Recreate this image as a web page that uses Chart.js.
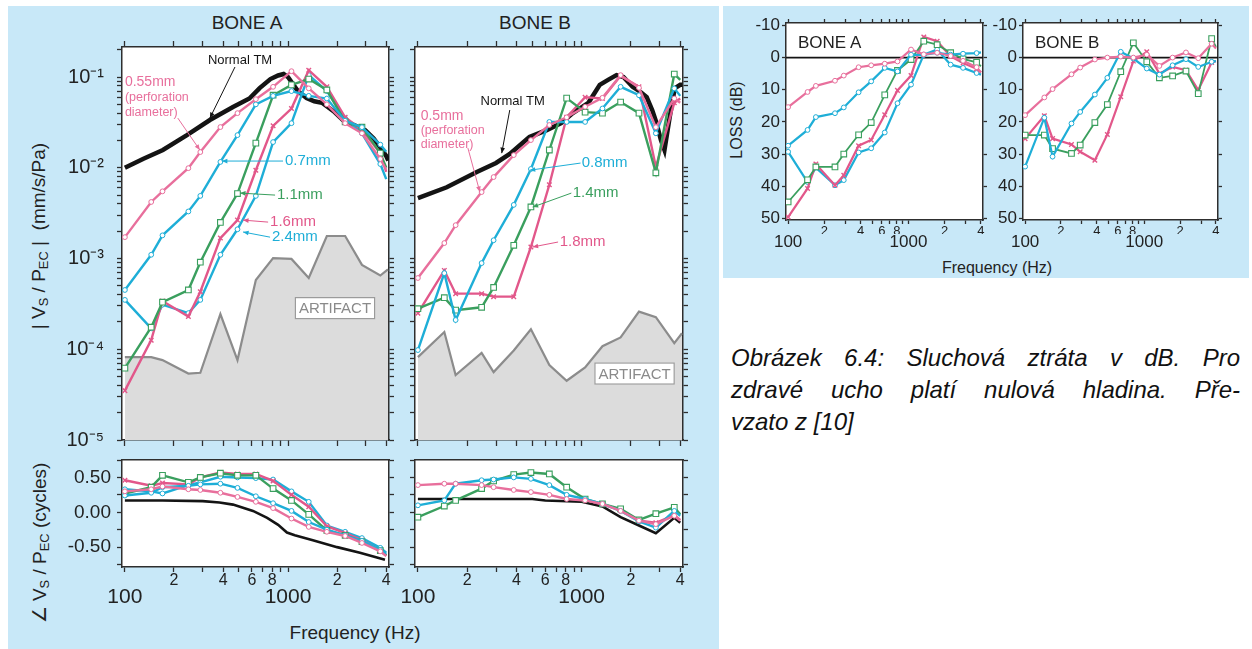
<!DOCTYPE html>
<html>
<head>
<meta charset="utf-8">
<script src="https://cdn.jsdelivr.net/npm/chart.js@4.4.1/dist/chart.umd.min.js"></script>
<style>
  body { margin: 0; width: 1252px; height: 649px; overflow: hidden; position: relative; background: #fff;
         font-family: 'Liberation Sans', Arial, sans-serif; color: #222; }
  .panel { position: absolute; background: #c8e8f8; }
  canvas.plot { position: absolute; }
  .lbl { position: absolute; white-space: nowrap; line-height: 1; }
  .rot { transform: translate(-50%, -50%) rotate(-90deg); }
  .ctr { transform: translate(-50%, -50%); }
  .lbl sub { font-size: 68%; vertical-align: -0.25em; }
  .cap { position: absolute; left: 731px; width: 509px; font-style: italic; font-size: 24px; line-height: 32px; color: #111; }
  .cap div { text-align: justify; text-align-last: justify; }
  .cap div.last { text-align-last: left; }
</style>
</head>
<body>
<div class="panel" style="left:8px; top:6px; width:711px; height:643px;"></div>
<div class="panel" style="left:723px; top:6px; width:526px; height:272px;"></div>

<canvas class="plot" id="magA"></canvas>
<canvas class="plot" id="magB"></canvas>
<canvas class="plot" id="phA"></canvas>
<canvas class="plot" id="phB"></canvas>
<canvas class="plot" id="lossA"></canvas>
<canvas class="plot" id="lossB"></canvas>

<div class="lbl ctr" style="left:247px; top:22px; font-size:19px;">BONE A</div>
<div class="lbl ctr" style="left:535px; top:22px; font-size:19px;">BONE B</div>
<div class="lbl rot" style="left:40px; top:236px; font-size:19px;">| V<sub>S</sub> / P<sub>EC</sub> | &nbsp;(mm/s/Pa)</div>
<div class="lbl rot" style="left:41px; top:543px; font-size:19px;">∠ V<sub>S</sub> / P<sub>EC</sub> (cycles)</div>
<div class="lbl ctr" style="left:355px; top:632px; font-size:19px;">Frequency (Hz)</div>

<div class="lbl rot" style="left:737px; top:120px; font-size:16px;">LOSS (dB)</div>
<div class="lbl ctr" style="left:997px; top:268px; font-size:16px;">Frequency (Hz)</div>
<div class="lbl" style="left:798px; top:34px; font-size:17px;">BONE A</div>
<div class="lbl" style="left:1035px; top:34px; font-size:17px;">BONE B</div>

<div class="cap" style="top:342px;">
  <div>Obrázek 6.4: Sluchová ztráta v dB. Pro</div>
  <div>zdravé ucho platí nulová hladina. Pře-</div>
  <div class="last">vzato z [10]</div>
</div>

<script>
// measurement frequencies (Hz), shared by both bones
const freqs = [100, 145, 170, 245, 290, 385, 490, 635, 810, 1050, 1340, 1730, 2240, 2840, 3680, 4000];
const artifactFreqs = [100, 145, 170, 245, 290, 385, 490, 635, 810, 1050, 1340, 1730, 2240, 2840, 3680, 4100];

// axis ticks
const freqTicks = [100, 200, 300, 400, 500, 600, 700, 800, 900, 1000, 2000, 3000, 4000];
const freqDigitLabels = { 200: '2', 400: '4', 600: '6', 800: '8', 2000: '2', 4000: '4' };
const freqDecadeLabels = { 100: '100', 1000: '1000' };
const magDecades = [1e-5, 1e-4, 1e-3, 1e-2, 1e-1];
const magDecadeLabels = ['10⁻⁵', '10⁻⁴', '10⁻³', '10⁻²', '10⁻¹'];
const phaseTicks = [-0.75, -0.5, -0.25, 0, 0.25, 0.5, 0.75];
const phaseLabels = { '-0.5': '-0.50', '0': '0.00', '0.5': '0.50' };
const lossTicks = [-10, 0, 10, 20, 30, 40, 50];

// BONE A, |Vs/Pec| (mm/s/Pa)
const normalFreqA = [100, 130, 171, 240, 332, 460, 580, 670, 780, 870, 940, 1000, 1060, 1150, 1300, 1450, 1615, 1900, 2170, 2500, 2970, 3350, 3660, 4000, 4120];
const normalA = [0.0100, 0.0126, 0.0157, 0.0229, 0.0336, 0.0467, 0.058, 0.0756, 0.095, 0.104, 0.108, 0.100, 0.086, 0.070, 0.0586, 0.054, 0.052, 0.042, 0.0336, 0.030, 0.026, 0.021, 0.0169, 0.0135, 0.012];
const magA055 = [0.00172, 0.0042, 0.0055, 0.0099, 0.0149, 0.0281, 0.040, 0.057, 0.078, 0.116, 0.075, 0.050, 0.031, 0.024, 0.0125, 0.0095];
const magA07 = [0.00045, 0.0011, 0.0018, 0.0033, 0.0049, 0.0116, 0.0229, 0.050, 0.062, 0.070, 0.062, 0.058, 0.033, 0.028, 0.018, 0.015];
const magA11 = [6.2e-5, 1.75e-4, 3.3e-4, 4.5e-4, 9.1e-4, 0.0025, 0.0052, 0.0187, 0.063, 0.082, 0.095, 0.072, 0.032, 0.028, 0.0145, 0.010];
const magA16 = [3.5e-5, 1.26e-4, 3.4e-4, 2.3e-4, 4.3e-4, 0.00168, 0.00265, 0.0094, 0.029, 0.045, 0.119, 0.078, 0.036, 0.026, 0.0145, 0.009];
const magA24 = [3.5e-4, 1.7e-4, 3.1e-4, 2.5e-4, 3.5e-4, 0.0011, 0.0021, 0.0049, 0.0192, 0.031, 0.105, 0.070, 0.035, 0.024, 0.011, 0.0075];
const artifactA = [8.2e-5, 8.2e-5, 7.6e-5, 5.4e-5, 5.5e-5, 2.44e-4, 7.6e-5, 5.8e-4, 1.01e-3, 9.9e-4, 6.1e-4, 1.77e-3, 1.77e-3, 8.5e-4, 6.5e-4, 7.6e-4];

// BONE B, |Vs/Pec| (mm/s/Pa)
const normalFreqB = [100, 150, 229, 300, 364, 480, 612, 750, 883, 1100, 1290, 1450, 1633, 1800, 2049, 2300, 2497, 2700, 2852, 3050, 3206, 3440, 3700, 4000, 4120];
const normalB = [0.00464, 0.0061, 0.009, 0.0113, 0.0142, 0.0218, 0.026, 0.031, 0.040, 0.052, 0.082, 0.093, 0.105, 0.100, 0.078, 0.068, 0.060, 0.043, 0.032, 0.0202, 0.0157, 0.035, 0.075, 0.082, 0.082];
const magB05 = [6.1e-4, 0.00148, 0.00233, 0.0054, 0.0079, 0.0138, 0.0202, 0.0296, 0.036, 0.047, 0.059, 0.105, 0.076, 0.028, 0.058, 0.052];
const magB08 = [9.8e-5, 6.9e-4, 2.1e-4, 8.9e-4, 0.00159, 0.0039, 0.0097, 0.032, 0.032, 0.032, 0.045, 0.078, 0.063, 0.024, 0.075, 0.062];
const magB14 = [2.8e-4, 3.7e-4, 2.7e-4, 2.9e-4, 4.8e-4, 0.0014, 0.0037, 0.0157, 0.0586, 0.041, 0.040, 0.053, 0.040, 0.0088, 0.108, 0.093];
const magB18 = [2.5e-4, 7.4e-4, 4.1e-4, 4.1e-4, 3.8e-4, 3.8e-4, 0.00134, 0.0065, 0.036, 0.060, 0.058, 0.103, 0.078, 0.0102, 0.052, 0.058];
const artifactB = [8.2e-5, 1.55e-4, 5.2e-5, 9.1e-5, 5.6e-5, 9.7e-5, 1.66e-4, 6.7e-5, 4.5e-5, 6.3e-5, 1.08e-4, 1.35e-4, 2.6e-4, 2.26e-4, 1.17e-4, 1.5e-4];

// phase (cycles)
const normalPhaseFreqA = [100, 170, 300, 380, 460, 610, 745, 870, 985, 1100, 1420, 2000, 2760, 3930];
const normalPhaseA = [0.17, 0.17, 0.16, 0.14, 0.11, 0.02, -0.08, -0.18, -0.29, -0.33, -0.40, -0.50, -0.58, -0.68];
const phaseA055 = [0.30, 0.33, 0.37, 0.33, 0.32, 0.28, 0.22, 0.15, 0.06, -0.09, -0.21, -0.28, -0.34, -0.44, -0.56, -0.63];
const phaseA07 = [0.24, 0.28, 0.36, 0.38, 0.40, 0.41, 0.35, 0.23, 0.13, 0.02, -0.14, -0.25, -0.33, -0.41, -0.54, -0.60];
const phaseA11 = [0.27, 0.36, 0.53, 0.43, 0.50, 0.56, 0.53, 0.53, 0.34, 0.17, -0.03, -0.26, -0.33, -0.42, -0.55, -0.62];
const phaseA16 = [0.46, 0.38, 0.42, 0.40, 0.50, 0.57, 0.55, 0.55, 0.45, 0.25, 0.08, -0.20, -0.30, -0.40, -0.55, -0.62];
const phaseA24 = [0.33, 0.30, 0.27, 0.39, 0.43, 0.51, 0.50, 0.49, 0.47, 0.30, 0.15, -0.19, -0.28, -0.37, -0.51, -0.58];

const normalPhaseFreqB = [100, 500, 600, 1000, 1340, 1730, 2240, 2840, 3680, 4000];
const normalPhaseB = [0.19, 0.19, 0.17, 0.15, 0.085, -0.07, -0.19, -0.30, -0.08, -0.15];
const phaseB05 = [0.39, 0.41, 0.41, 0.39, 0.36, 0.32, 0.29, 0.25, 0.19, 0.17, 0.12, 0.02, -0.12, -0.17, -0.05, -0.12];
const phaseB08 = [0.10, 0.17, 0.41, 0.46, 0.47, 0.50, 0.48, 0.39, 0.25, 0.19, 0.12, 0.02, -0.13, -0.22, 0.02, -0.05];
const phaseB14 = [-0.07, 0.09, 0.17, 0.34, 0.45, 0.54, 0.57, 0.55, 0.36, 0.19, 0.12, 0.05, -0.11, -0.02, 0.07, -0.03];
const phaseB18 = [null, null, null, null, null, null, null, null, null, 0.18, 0.11, 0.04, -0.12, -0.15, -0.04, -0.11];

// loss (dB)
const lossA055 = [15.4, 10.7, 8.8, 7.2, 5.6, 3.0, 2.4, 1.9, 1.2, -2.5, -1.0, -1.5, -0.5, 1.0, 3.0, 4.6];
const lossA07 = [27.4, 22.5, 18.5, 17.3, 15.5, 10.8, 7.4, 3.2, 4.3, -0.9, -0.8, -1.5, -0.9, -1.2, -1.4, -1.6];
const lossA11 = [44.9, 38.0, 34.0, 34.0, 30.0, 24.0, 20.2, 11.6, 4.0, 0.6, -5.1, -4.0, -1.5, 0.4, 1.5, 2.7];
const lossA16 = [49.6, 40.7, 33.1, 39.7, 36.6, 27.4, 25.6, 17.8, 10.2, 5.6, -6.4, -5.1, -0.4, 1.7, 3.5, 4.6];
const lossA24 = [29.3, 38.7, 34.2, 39.7, 38.1, 29.5, 28.2, 23.3, 14.2, 8.4, -0.9, -2.5, 2.2, 3.2, 4.8, 5.3];
const lossB05 = [17.9, 12.4, 9.8, 5.2, 3.1, 0.6, 0.0, -0.3, 0.0, -0.9, 2.6, 0.0, -1.6, 0.2, -4.3, -2.8];
const lossB08 = [33.9, 18.7, 30.8, 20.5, 16.9, 11.5, 6.3, -1.8, 0.3, 3.4, 5.3, 2.4, 0.5, 2.9, 1.3, 1.1];
const lossB14 = [24.1, 24.1, 28.3, 29.8, 27.2, 20.2, 14.6, 4.4, -4.6, 1.3, 6.3, 5.7, 4.2, 11.2, -5.9, -3.3];
const lossB18 = [25.2, 18.1, 25.2, 27.0, 29.3, 31.9, 23.9, 12.2, 1.1, -1.8, 5.0, 2.9, 3.9, 10.1, 1.5, 1.1];

const F_MIN = 96, F_MAX = 4160;
const MAG_MIN = 1e-5, MAG_MAX = 0.2143;
const PHASE_MIN = -0.785, PHASE_MAX = 0.75;
const LOSS_MIN = -10.75, LOSS_MAX = 50.5;

const PINK = '#e2578a';
const PINK_LIGHT = '#e86f9c';
const CYAN = '#1eaed7';
const GREEN = '#3a9f5e';
const BLACK = '#141414';
const INK = '#2e2e2e';

const magTickValues = magDecades
  .flatMap((d) => [1, 2, 3, 4, 5, 6, 7, 8, 9].map((m) => m * d))
  .filter((v) => v <= MAG_MAX);

const MARKERS = {
  o: { style: 'circle', r: 2.4, w: 1 },
  sq: { style: 'rect', r: 4, w: 1.1 },
  x: { style: 'crossRot', r: 3.2, w: 1.4 },
  none: { style: 'circle', r: 0, w: 0 },
};

function series(freq, values, color, marker, order, width) {
  const last = freq.length - 1;
  const m = MARKERS[marker];
  return {
    data: freq.map((f, i) => ({ x: f, y: values[i] })),
    borderColor: color,
    borderWidth: width || 2.4,
    pointStyle: m.style,
    pointRadius: (c) => (c.dataIndex === last ? 0 : m.r),
    pointBorderColor: color,
    pointBackgroundColor: '#fff',
    pointBorderWidth: m.w,
    order,
  };
}

function artifact(values) {
  return {
    data: artifactFreqs.map((f, i) => ({ x: f, y: values[i] })),
    borderColor: '#8c8c8c',
    borderWidth: 2.2,
    backgroundColor: '#dcdcdc',
    fill: 'start',
    pointRadius: 0,
    order: 10,
  };
}

function zeroLine() {
  return {
    data: [{ x: F_MIN, y: 0 }, { x: F_MAX, y: 0 }],
    borderColor: BLACK,
    borderWidth: 1.6,
    pointRadius: 0,
    order: 9,
  };
}

// fixes an axis box to a given thickness so the plot areas land where the figure has them
function sizeTo(n) {
  return (s) => {
    if (s.isHorizontal()) s.height = n; else s.width = n;
    s.paddingLeft = 0; s.paddingRight = 0; s.paddingTop = 0; s.paddingBottom = 0;
  };
}

function freqAxis(position, size, opts) {
  const o = opts || {};
  return {
    type: 'logarithmic', position, min: F_MIN, max: F_MAX, weight: o.weight || 0,
    afterBuildTicks: (s) => { s.ticks = freqTicks.map((v) => ({ value: v })); },
    afterFit: sizeTo(size),
    ticks: {
      display: !!o.labels, autoSkip: false, maxRotation: 0, padding: o.padding || 0, color: '#222',
      font: { family: 'Liberation Sans', size: o.font || 15, lineHeight: 1 },
      callback: (v) => (o.labels ? o.labels[v] || '' : ''),
    },
    grid: o.tick
      ? { drawOnChartArea: false, drawTicks: true, tickLength: o.tick, tickColor: INK, tickWidth: 1.3 }
      : { display: false, drawTicks: false },
    border: { display: o.border !== false, color: INK, width: 1.5 },
  };
}

function valueAxis(type, position, size, min, max, tickValues, opts) {
  const o = opts || {};
  return {
    type, position, min, max, reverse: !!o.reverse,
    afterBuildTicks: (s) => { s.ticks = tickValues.map((v) => ({ value: v })); },
    afterFit: sizeTo(size),
    ticks: {
      display: !!o.label, autoSkip: false, padding: o.padding || 0, color: '#222',
      font: { family: 'Liberation Sans', size: o.font || 18, lineHeight: 1 },
      callback: (v) => (o.label ? o.label(v) : ''),
    },
    grid: { drawOnChartArea: false, drawTicks: true, tickLength: o.tick || 5, tickColor: INK, tickWidth: 1.3 },
    border: { color: INK, width: 1.5 },
  };
}

const magLabel = (v) => { const i = magDecades.indexOf(v); return i >= 0 ? magDecadeLabels[i] : ''; };
const phaseLabel = (v) => phaseLabels[String(v)] || '';
const lossLabel = (v) => String(v);

const whiteArea = {
  id: 'whiteArea',
  beforeDraw(chart) {
    const a = chart.chartArea;
    chart.ctx.save();
    chart.ctx.fillStyle = '#fff';
    chart.ctx.fillRect(a.left, a.top, a.right - a.left, a.bottom - a.top);
    chart.ctx.restore();
  },
};

// callout labels and leader lines, anchored in data coordinates
function notesPlugin(items) {
  return {
    id: 'notes',
    afterDatasetsDraw(chart) {
      const { ctx } = chart;
      const sx = chart.scales.x, sy = chart.scales.y;
      const px = (p) => [sx.getPixelForValue(p[0]), sy.getPixelForValue(p[1])];
      ctx.save();
      items.forEach((it) => {
        if (it.type === 'text') {
          const [x, y] = px(it.at);
          ctx.font = `${it.size || 14}px "Liberation Sans", Arial, sans-serif`;
          ctx.fillStyle = it.color;
          ctx.textAlign = it.align || 'left';
          ctx.textBaseline = 'middle';
          ctx.fillText(it.text, x, y);
        } else if (it.type === 'line') {
          const [x1, y1] = px(it.from);
          const [x2, y2] = px(it.to);
          ctx.strokeStyle = it.color;
          ctx.fillStyle = it.color;
          ctx.lineWidth = 1;
          ctx.beginPath(); ctx.moveTo(x1, y1); ctx.lineTo(x2, y2); ctx.stroke();
          const a = Math.atan2(y2 - y1, x2 - x1);
          ctx.beginPath();
          ctx.moveTo(x2, y2);
          ctx.lineTo(x2 - 6 * Math.cos(a - 0.4), y2 - 6 * Math.sin(a - 0.4));
          ctx.lineTo(x2 - 6 * Math.cos(a + 0.4), y2 - 6 * Math.sin(a + 0.4));
          ctx.closePath(); ctx.fill();
        } else if (it.type === 'box') {
          const [x, y] = px(it.at);
          ctx.font = '15px "Liberation Sans", Arial, sans-serif';
          const w = ctx.measureText(it.text).width + 8;
          ctx.fillStyle = '#fff';
          ctx.fillRect(x - w / 2, y - 11, w, 22);
          ctx.strokeStyle = '#9a9a9a';
          ctx.lineWidth = 1.2;
          ctx.strokeRect(x - w / 2 + 0.5, y - 10.5, w - 1, 21);
          ctx.fillStyle = '#8a8a8a';
          ctx.textAlign = 'center';
          ctx.textBaseline = 'middle';
          ctx.fillText(it.text, x, y + 1);
        }
      });
      ctx.restore();
    },
  };
}

function makeChart(id, area, pad, datasets, scales, notes) {
  const canvas = document.getElementById(id);
  canvas.width = area.w + pad.l + pad.r;
  canvas.height = area.h + pad.t + pad.b;
  canvas.style.width = canvas.width + 'px';
  canvas.style.height = canvas.height + 'px';
  canvas.style.left = (area.x - pad.l) + 'px';
  canvas.style.top = (area.y - pad.t) + 'px';
  return new Chart(canvas, {
    type: 'line',
    data: { datasets },
    options: {
      responsive: false,
      animation: false,
      devicePixelRatio: 1,
      events: [],
      layout: { padding: 0, autoPadding: false },
      plugins: { legend: { display: false }, tooltip: { enabled: false } },
      scales,
    },
    plugins: [whiteArea, notesPlugin(notes || [])],
  });
}

function magScales(leftSize, withLabels) {
  return {
    x: freqAxis('bottom', 8, { tick: 6 }),
    x2: freqAxis('top', 8, { tick: 6 }),
    y: valueAxis('logarithmic', 'left', leftSize, MAG_MIN, MAG_MAX, magTickValues,
      withLabels ? { label: magLabel, padding: 13, font: 20 } : {}),
    y2: valueAxis('logarithmic', 'right', 8, MAG_MIN, MAG_MAX, magTickValues),
  };
}

function phaseScales(leftSize, withLabels) {
  return {
    x: freqAxis('bottom', 20, { tick: 5, padding: 1, font: 16, labels: freqDigitLabels }),
    x3: freqAxis('bottom', 20, { font: 21, labels: freqDecadeLabels, border: false, weight: 1 }),
    x2: freqAxis('top', 2, {}),
    y: valueAxis('linear', 'left', leftSize, PHASE_MIN, PHASE_MAX, phaseTicks,
      withLabels ? { label: phaseLabel, padding: 6, font: 19 } : {}),
    y2: valueAxis('linear', 'right', 8, PHASE_MIN, PHASE_MAX, phaseTicks),
  };
}

function lossScales(leftSize) {
  return {
    x: freqAxis('bottom', 14, { tick: 4, padding: 1, font: 13, labels: freqDigitLabels }),
    x3: freqAxis('bottom', 18, { font: 17, labels: freqDecadeLabels, border: false, weight: 1 }),
    x2: freqAxis('top', 6, { tick: 4 }),
    y: valueAxis('linear', 'left', leftSize, LOSS_MIN, LOSS_MAX, lossTicks,
      { label: lossLabel, padding: 2, font: 17, tick: 4, reverse: true }),
    y2: valueAxis('linear', 'right', 6, LOSS_MIN, LOSS_MAX, lossTicks, { tick: 4, reverse: true }),
  };
}

const notesMagA = [
  { type: 'text', at: [508, 0.154], text: 'Normal TM', color: BLACK, size: 13, align: 'center' },
  { type: 'line', from: [473, 0.129], to: [332, 0.0353], color: BLACK },
  { type: 'text', at: [100, 0.088], text: '0.55mm', color: PINK_LIGHT, size: 14 },
  { type: 'text', at: [100, 0.0587], text: '(perforation', color: PINK_LIGHT, size: 12.5 },
  { type: 'text', at: [100, 0.041], text: 'diameter)', color: PINK_LIGHT, size: 12.5 },
  { type: 'line', from: [211, 0.0353], to: [288, 0.0157], color: PINK_LIGHT },
  { type: 'text', at: [958, 0.01186], text: '0.7mm', color: CYAN, size: 15 },
  { type: 'line', from: [932, 0.01186], to: [393, 0.01186], color: CYAN },
  { type: 'text', at: [856, 0.005], text: '1.1mm', color: GREEN, size: 15 },
  { type: 'line', from: [833, 0.005], to: [508, 0.00526], color: GREEN },
  { type: 'text', at: [776, 0.00252], text: '1.6mm', color: PINK, size: 15 },
  { type: 'line', from: [755, 0.00252], to: [530, 0.00265], color: PINK },
  { type: 'text', at: [797, 0.00172], text: '2.4mm', color: CYAN, size: 15 },
  { type: 'line', from: [776, 0.00172], to: [530, 0.00196], color: CYAN },
  { type: 'box', at: [1941, 2.84e-4], text: 'ARTIFACT' },
];

const notesMagB = [
  { type: 'text', at: [379, 0.0543], text: 'Normal TM', color: BLACK, size: 13, align: 'center' },
  { type: 'line', from: [364, 0.0433], to: [325, 0.0145], color: BLACK },
  { type: 'text', at: [104, 0.037], text: '0.5mm', color: PINK_LIGHT, size: 14 },
  { type: 'text', at: [104, 0.026], text: '(perforation', color: PINK_LIGHT, size: 12.5 },
  { type: 'text', at: [104, 0.0182], text: 'diameter)', color: PINK_LIGHT, size: 12.5 },
  { type: 'line', from: [202, 0.0165], to: [239, 0.0054], color: PINK_LIGHT },
  { type: 'text', at: [1000, 0.01127], text: '0.8mm', color: CYAN, size: 15 },
  { type: 'line', from: [985, 0.01127], to: [482, 0.0094], color: CYAN },
  { type: 'text', at: [882, 0.00526], text: '1.4mm', color: GREEN, size: 15 },
  { type: 'line', from: [865, 0.00526], to: [502, 0.00369], color: GREEN },
  { type: 'text', at: [734, 0.00152], text: '1.8mm', color: PINK, size: 15 },
  { type: 'line', from: [718, 0.00152], to: [502, 0.00134], color: PINK },
  { type: 'box', at: [2105, 5.4e-5], text: 'ARTIFACT' },
];

makeChart('magA', { x: 122, y: 47, w: 267, h: 393 }, { l: 60, t: 8, r: 8, b: 8 }, [
  series(freqs, magA055, PINK_LIGHT, 'o', 1),
  series(freqs, magA07, CYAN, 'o', 2),
  series(freqs, magA11, GREEN, 'sq', 3),
  series(freqs, magA16, PINK, 'x', 4),
  series(freqs, magA24, CYAN, 'o', 5),
  series(normalFreqA, normalA, BLACK, 'none', 6, 4.5),
  artifact(artifactA),
], magScales(60, true), notesMagA);

makeChart('magB', { x: 415, y: 47, w: 268, h: 393 }, { l: 8, t: 8, r: 8, b: 8 }, [
  series(freqs, magB05, PINK_LIGHT, 'o', 1),
  series(freqs, magB08, CYAN, 'o', 2),
  series(freqs, magB14, GREEN, 'sq', 3),
  series(freqs, magB18, PINK, 'x', 4),
  series(normalFreqB, normalB, BLACK, 'none', 6, 4.5),
  artifact(artifactB),
], magScales(8, false), notesMagB);

makeChart('phA', { x: 122, y: 460, w: 267, h: 107 }, { l: 60, t: 2, r: 8, b: 40 }, [
  series(freqs, phaseA055, PINK_LIGHT, 'o', 1),
  series(freqs, phaseA07, CYAN, 'o', 2),
  series(freqs, phaseA11, GREEN, 'sq', 3),
  series(freqs, phaseA16, PINK, 'x', 4),
  series(freqs, phaseA24, CYAN, 'o', 5),
  series(normalPhaseFreqA, normalPhaseA, BLACK, 'none', 6, 2.6),
], phaseScales(60, true));

// wider left margin so the "100" label under the B axis is not cut
makeChart('phB', { x: 415, y: 460, w: 268, h: 107 }, { l: 30, t: 2, r: 8, b: 40 }, [
  series(freqs, phaseB05, PINK_LIGHT, 'o', 1),
  series(freqs, phaseB08, CYAN, 'o', 2),
  series(freqs, phaseB14, GREEN, 'sq', 3),
  series(freqs, phaseB18, PINK, 'x', 4),
  series(normalPhaseFreqB, normalPhaseB, BLACK, 'none', 6, 2.6),
], phaseScales(30, false));

makeChart('lossA', { x: 786, y: 23, w: 197, h: 197 }, { l: 40, t: 6, r: 6, b: 32 }, [
  series(freqs, lossA055, PINK_LIGHT, 'o', 1, 2.2),
  series(freqs, lossA07, CYAN, 'o', 2, 2.2),
  series(freqs, lossA11, GREEN, 'sq', 3, 1.8),
  series(freqs, lossA16, PINK, 'x', 4, 2.2),
  series(freqs, lossA24, CYAN, 'o', 5, 2.2),
  zeroLine(),
], lossScales(40));

makeChart('lossB', { x: 1023, y: 23, w: 195, h: 197 }, { l: 36, t: 6, r: 6, b: 32 }, [
  series(freqs, lossB05, PINK_LIGHT, 'o', 1, 2.2),
  series(freqs, lossB08, CYAN, 'o', 2, 2.2),
  series(freqs, lossB14, GREEN, 'sq', 3, 1.8),
  series(freqs, lossB18, PINK, 'x', 4, 2.2),
  zeroLine(),
], lossScales(36));
</script>
</body>
</html>
